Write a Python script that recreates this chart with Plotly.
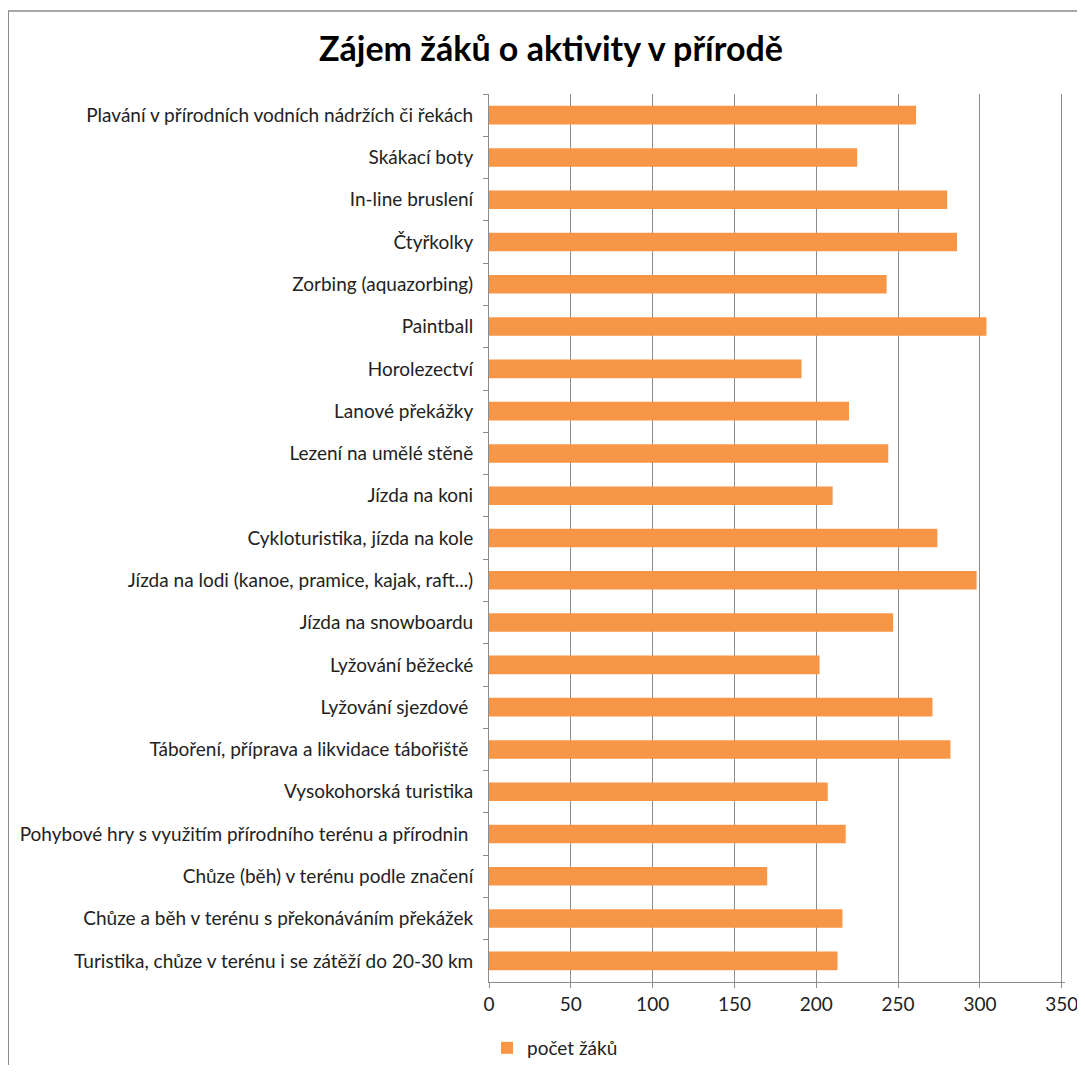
import plotly.graph_objects as go

categories = [
    "Plavání v přírodních vodních nádržích či řekách",
    "Skákací boty",
    "In-line bruslení",
    "Čtyřkolky",
    "Zorbing (aquazorbing)",
    "Paintball",
    "Horolezectví",
    "Lanové překážky",
    "Lezení na umělé stěně",
    "Jízda na koni",
    "Cykloturistika, jízda na kole",
    "Jízda na lodi (kanoe, pramice, kajak, raft...)",
    "Jízda na snowboardu",
    "Lyžování běžecké",
    "Lyžování sjezdové ",
    "Táboření, příprava a likvidace tábořiště ",
    "Vysokohorská turistika",
    "Pohybové hry s využitím přírodního terénu a přírodnin ",
    "Chůze (běh) v terénu podle značení",
    "Chůze a běh v terénu s překonáváním překážek",
    "Turistika, chůze v terénu i se zátěží do 20-30 km",
]
values = [261, 225, 280, 286, 243, 304, 191, 220, 244, 210, 274, 298,
          247, 202, 271, 282, 207, 218, 170, 216, 213]
series_name = "počet žáků"
x_ticks = [0, 50, 100, 150, 200, 250, 300, 350]

# page body has an 8px margin; work in reference-pixel coordinates
OFF = 8
W, H = 1085 - 2 * OFF, 1073 - 2 * OFF
X0_PX, X350_PX = 489, 1062
px_per_unit = (X350_PX - X0_PX) / 350
XMAX = 352
L = X0_PX - OFF
Rx = X0_PX + XMAX * px_per_unit - OFF
T = 94 - OFF
Bx = 982 - OFF
pw, ph = Rx - L, Bx - T

fig = go.Figure()
fig.add_trace(go.Bar(
    y=categories, x=values, orientation="h", name=series_name,
    marker=dict(color="#F79646", line=dict(width=0)),
    showlegend=True,
))

font_family = "Lato, 'Open Sans', sans-serif"
fs = 19
fig.update_layout(
    width=W, height=H,
    margin=dict(l=L, r=W - Rx, t=T, b=H - Bx, autoexpand=False),
    paper_bgcolor="white", plot_bgcolor="white",
    font=dict(family=font_family, size=fs, color="#222222"),
    bargap=0.56,
    title=dict(text="<b>Zájem žáků o aktivity v přírodě</b>",
               x=(551 - OFF) / W, xanchor="center",
               y=1 - (49 - OFF) / H, yanchor="middle",
               font=dict(size=34, color="#000000", family=font_family)),
    xaxis=dict(range=[0, XMAX], tickvals=x_ticks, showgrid=True,
               gridcolor="#8C8C8C", gridwidth=1, showline=True,
               linecolor="#8C8C8C", ticks="outside", ticklen=5,
               tickcolor="#8C8C8C", zeroline=False,
               ticklabeloverflow="allow",
               tickfont=dict(size=fs, color="#222222")),
    yaxis=dict(autorange="reversed", showline=True, linecolor="#8C8C8C",
               ticks="outside", tickson="boundaries", ticklen=5,
               tickcolor="#8C8C8C", showgrid=False,
               ticklabelstandoff=11,
               tickfont=dict(size=fs, color="#222222")),
    legend=dict(orientation="h", x=(487 - 489) / pw, xanchor="left",
                y=(982 - 1048) / ph, yanchor="middle",
                font=dict(size=fs, color="#222222"),
                itemwidth=30, bgcolor="rgba(0,0,0,0)"),
    shapes=[dict(type="rect", xref="paper", yref="paper",
                 x0=(8 - 489) / pw, x1=(1120 - 489) / pw,
                 y0=(982 - 1110) / ph, y1=(982 - 11) / ph,
                 line=dict(color="#8A8A8A", width=1.5),
                 fillcolor="rgba(0,0,0,0)", layer="below")],
)

fig.write_html("out.html")
